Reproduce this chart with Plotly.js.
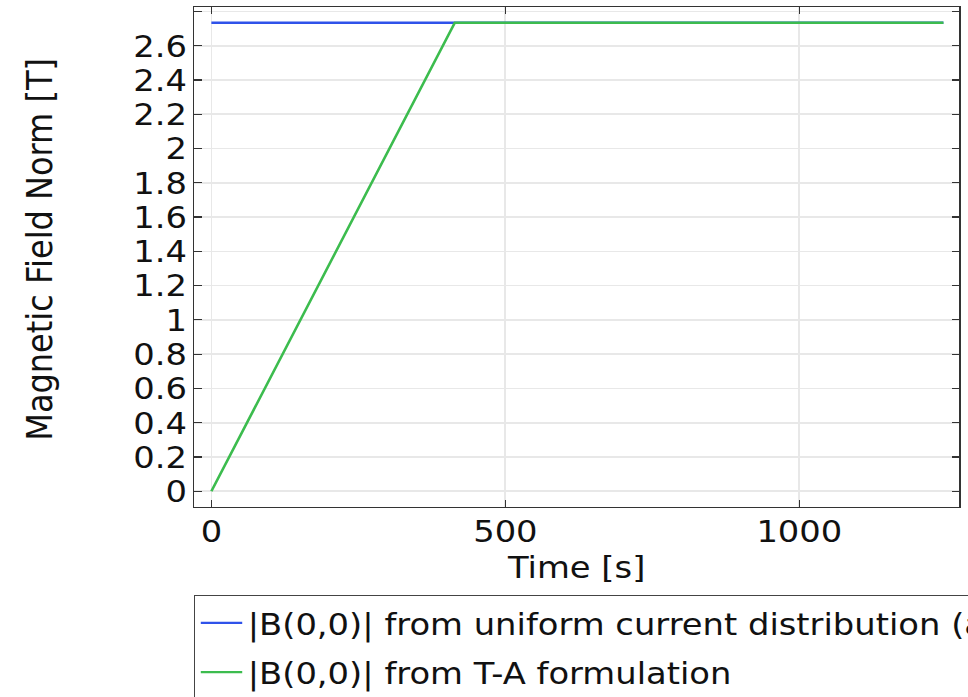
<!DOCTYPE html>
<html>
<head>
<meta charset="utf-8">
<script src="https://cdn.plot.ly/plotly-3.0.1.min.js"></script>
<style>
  html, body { margin: 0; padding: 0; background: #ffffff; overflow: hidden; }
  #wrap { width: 968px; height: 697px; overflow: hidden; }
  /* the figure is laid out narrower and widened horizontally */
  #chart { width: 888px; height: 697px; transform: scaleX(1.09009); transform-origin: 0 0; }
</style>
</head>
<body>
<div id="wrap"><div id="chart"></div></div>
<script>
// Time axis samples [s]
const timeUniform = [0, 1245];
const timeTA = [0, 414, 1245];

// Magnetic field norm at the centre [T]
const bUniform = [2.734, 2.734];
const bTA = [0, 2.734, 2.734];

// Series names
const nameUniform = '|B(0,0)| from uniform current distribution (analytical)';
const nameTA = '|B(0,0)| from T-A formulation';

// Tick values and labels
const xTickVals = [0, 500, 1000];
const xTickText = ['0', '500', '1000'];
const yTickVals = [0, 0.2, 0.4, 0.6, 0.8, 1, 1.2, 1.4, 1.6, 1.8, 2, 2.2, 2.4, 2.6, 2.8];
const yTickText = ['0', '0.2', '0.4', '0.6', '0.8', '1', '1.2', '1.4', '1.6', '1.8', '2', '2.2', '2.4', '2.6', ''];

// Axis titles
const xTitle = 'Time [s]';
const yTitle = 'Magnetic Field Norm [T]';

const FONT = 'DejaVu Sans, sans-serif';
const TXT = '#111111';

const traces = [
  {
    x: timeUniform, y: bUniform, name: nameUniform,
    type: 'scatter', mode: 'lines',
    line: { color: '#2f52ea', width: 2.4 },
    legendgroup: 'a'
  },
  {
    x: timeTA, y: bTA, name: nameTA,
    type: 'scatter', mode: 'lines',
    line: { color: '#3cbc4e', width: 2.4 },
    legendgroup: 'b'
  }
];

const axisCommon = {
  showline: true, linecolor: '#333333', linewidth: 1.3,
  mirror: 'ticks', ticks: 'inside', ticklen: 7, tickwidth: 1.2, tickcolor: '#333333',
  showgrid: true, gridcolor: '#e8e8e8', gridwidth: 1.6,
  zeroline: false,
  tickfont: { family: FONT, size: 31, color: TXT }
};

const layout = {
  width: 888, height: 697,
  margin: { l: 178.3, r: 8.3, t: 7, b: 190, autoexpand: false },
  paper_bgcolor: '#ffffff', plot_bgcolor: '#ffffff',
  font: { family: FONT, size: 31, color: TXT },
  showlegend: true,
  xaxis: Object.assign({}, axisCommon, {
    range: [-29.5, 1272],
    tickmode: 'array', tickvals: xTickVals, ticktext: xTickText,
    ticklabelstandoff: -3,
    title: { text: xTitle, font: { family: FONT, size: 31, color: TXT }, standoff: 0 }
  }),
  yaxis: Object.assign({}, axisCommon, {
    range: [-0.092, 2.826],
    tickmode: 'array', tickvals: yTickVals, ticktext: yTickText,
    ticklabelstandoff: -1
  }),
  // vertical axis title, placed to the left of the tick labels
  annotations: [{
    text: yTitle, textangle: -90,
    xref: 'paper', yref: 'paper', x: -0.202, y: 0.515,
    xanchor: 'center', yanchor: 'middle', showarrow: false,
    font: { family: FONT, size: 32, color: TXT }
  }],
  legend: {
    x: 0, xref: 'paper', xanchor: 'left',
    y: -0.176, yref: 'paper', yanchor: 'top',
    bgcolor: '#ffffff', bordercolor: '#444444', borderwidth: 1.2,
    font: { family: FONT, size: 31, color: TXT },
    itemwidth: 38,
    traceorder: 'grouped', tracegroupgap: 6
  }
};

Plotly.newPlot('chart', traces, layout, { staticPlot: true, displayModeBar: false });
</script>
</body>
</html>
